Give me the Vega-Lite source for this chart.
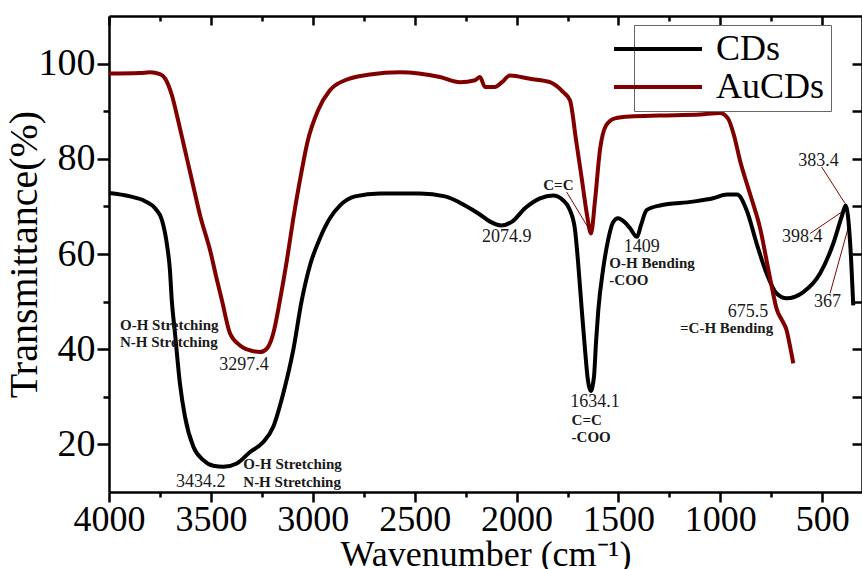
{
  "$schema": "https://vega.github.io/schema/vega-lite/v6.json",
  "width": 753,
  "height": 476,
  "autosize": {"type": "none"},
  "padding": {"left": 109, "top": 16, "right": 0, "bottom": 77},
  "background": "white",
  "config": {
    "view": {"stroke": null},
    "font": "Liberation Serif, Times New Roman, Times, serif",
    "text": {"font": "Liberation Serif, Times New Roman, Times, serif"},
    "axis": {
      "grid": false,
      "domainColor": "#000000",
      "domainWidth": 2.5,
      "tickColor": "#000000",
      "tickWidth": 2.5,
      "labelColor": "#000000",
      "titleColor": "#000000",
      "labelFont": "Liberation Serif, Times New Roman, Times, serif",
      "titleFont": "Liberation Serif, Times New Roman, Times, serif",
      "titleFontWeight": "normal"
    },
    "legend": {"labelFont": "Liberation Serif, Times New Roman, Times, serif"}
  },
  "datasets": {
    "curves": [
      {"series": "CDs", "wn": 4000, "T": 72.8},
      {"series": "CDs", "wn": 3897, "T": 72.1},
      {"series": "CDs", "wn": 3823, "T": 71.1},
      {"series": "CDs", "wn": 3774, "T": 69.6},
      {"series": "CDs", "wn": 3740, "T": 67.1},
      {"series": "CDs", "wn": 3715, "T": 61.8},
      {"series": "CDs", "wn": 3701, "T": 56.6},
      {"series": "CDs", "wn": 3692, "T": 50.3},
      {"series": "CDs", "wn": 3676, "T": 43.3},
      {"series": "CDs", "wn": 3652, "T": 32.8},
      {"series": "CDs", "wn": 3627, "T": 25.8},
      {"series": "CDs", "wn": 3586, "T": 19.5},
      {"series": "CDs", "wn": 3537, "T": 16.7},
      {"series": "CDs", "wn": 3488, "T": 15.5},
      {"series": "CDs", "wn": 3439, "T": 15.3},
      {"series": "CDs", "wn": 3373, "T": 16.0},
      {"series": "CDs", "wn": 3308, "T": 18.4},
      {"series": "CDs", "wn": 3243, "T": 20.5},
      {"series": "CDs", "wn": 3194, "T": 23.7},
      {"series": "CDs", "wn": 3145, "T": 30.7},
      {"series": "CDs", "wn": 3096, "T": 39.8},
      {"series": "CDs", "wn": 3054, "T": 50.3},
      {"series": "CDs", "wn": 3014, "T": 57.6},
      {"series": "CDs", "wn": 2965, "T": 63.3},
      {"series": "CDs", "wn": 2916, "T": 67.5},
      {"series": "CDs", "wn": 2866, "T": 70.2},
      {"series": "CDs", "wn": 2793, "T": 72.1},
      {"series": "CDs", "wn": 2670, "T": 72.7},
      {"series": "CDs", "wn": 2474, "T": 72.7},
      {"series": "CDs", "wn": 2351, "T": 72.1},
      {"series": "CDs", "wn": 2253, "T": 70.2},
      {"series": "CDs", "wn": 2180, "T": 68.3},
      {"series": "CDs", "wn": 2130, "T": 66.8},
      {"series": "CDs", "wn": 2076, "T": 66.0},
      {"series": "CDs", "wn": 2022, "T": 66.8},
      {"series": "CDs", "wn": 1959, "T": 69.6},
      {"series": "CDs", "wn": 1885, "T": 71.7},
      {"series": "CDs", "wn": 1821, "T": 72.3},
      {"series": "CDs", "wn": 1772, "T": 71.3},
      {"series": "CDs", "wn": 1738, "T": 69.2},
      {"series": "CDs", "wn": 1713, "T": 65.0},
      {"series": "CDs", "wn": 1699, "T": 58.7},
      {"series": "CDs", "wn": 1680, "T": 48.2},
      {"series": "CDs", "wn": 1664, "T": 39.8},
      {"series": "CDs", "wn": 1650, "T": 33.5},
      {"series": "CDs", "wn": 1636, "T": 31.2},
      {"series": "CDs", "wn": 1620, "T": 34.3},
      {"series": "CDs", "wn": 1610, "T": 41.6},
      {"series": "CDs", "wn": 1599, "T": 48.2},
      {"series": "CDs", "wn": 1576, "T": 56.6},
      {"series": "CDs", "wn": 1551, "T": 62.9},
      {"series": "CDs", "wn": 1527, "T": 66.6},
      {"series": "CDs", "wn": 1502, "T": 67.5},
      {"series": "CDs", "wn": 1468, "T": 66.6},
      {"series": "CDs", "wn": 1443, "T": 65.4},
      {"series": "CDs", "wn": 1409, "T": 63.6},
      {"series": "CDs", "wn": 1390, "T": 66.0},
      {"series": "CDs", "wn": 1362, "T": 69.2},
      {"series": "CDs", "wn": 1297, "T": 70.2},
      {"series": "CDs", "wn": 1134, "T": 71.0},
      {"series": "CDs", "wn": 1036, "T": 71.7},
      {"series": "CDs", "wn": 967, "T": 72.5},
      {"series": "CDs", "wn": 918, "T": 72.5},
      {"series": "CDs", "wn": 871, "T": 69.2},
      {"series": "CDs", "wn": 822, "T": 62.2},
      {"series": "CDs", "wn": 773, "T": 55.9},
      {"series": "CDs", "wn": 724, "T": 51.7},
      {"series": "CDs", "wn": 675, "T": 50.7},
      {"series": "CDs", "wn": 593, "T": 52.0},
      {"series": "CDs", "wn": 511, "T": 55.9},
      {"series": "CDs", "wn": 446, "T": 62.2},
      {"series": "CDs", "wn": 405, "T": 67.8},
      {"series": "CDs", "wn": 385, "T": 70.2},
      {"series": "CDs", "wn": 363, "T": 62.2},
      {"series": "CDs", "wn": 348, "T": 49.2},
      {"series": "AuCDs", "wn": 4000, "T": 97.9},
      {"series": "AuCDs", "wn": 3848, "T": 98.0},
      {"series": "AuCDs", "wn": 3799, "T": 98.2},
      {"series": "AuCDs", "wn": 3750, "T": 97.8},
      {"series": "AuCDs", "wn": 3725, "T": 96.9},
      {"series": "AuCDs", "wn": 3691, "T": 93.3},
      {"series": "AuCDs", "wn": 3661, "T": 88.1},
      {"series": "AuCDs", "wn": 3627, "T": 81.8},
      {"series": "AuCDs", "wn": 3593, "T": 75.5},
      {"series": "AuCDs", "wn": 3553, "T": 68.1},
      {"series": "AuCDs", "wn": 3504, "T": 60.8},
      {"series": "AuCDs", "wn": 3470, "T": 54.5},
      {"series": "AuCDs", "wn": 3446, "T": 50.3},
      {"series": "AuCDs", "wn": 3406, "T": 43.3},
      {"series": "AuCDs", "wn": 3357, "T": 40.8},
      {"series": "AuCDs", "wn": 3293, "T": 39.6},
      {"series": "AuCDs", "wn": 3259, "T": 39.4},
      {"series": "AuCDs", "wn": 3226, "T": 40.1},
      {"series": "AuCDs", "wn": 3194, "T": 43.3},
      {"series": "AuCDs", "wn": 3161, "T": 50.3},
      {"series": "AuCDs", "wn": 3127, "T": 58.7},
      {"series": "AuCDs", "wn": 3097, "T": 67.1},
      {"series": "AuCDs", "wn": 3063, "T": 75.5},
      {"series": "AuCDs", "wn": 3024, "T": 83.9},
      {"series": "AuCDs", "wn": 2974, "T": 90.2},
      {"series": "AuCDs", "wn": 2916, "T": 94.4},
      {"series": "AuCDs", "wn": 2842, "T": 96.5},
      {"series": "AuCDs", "wn": 2719, "T": 97.7},
      {"series": "AuCDs", "wn": 2572, "T": 98.2},
      {"series": "AuCDs", "wn": 2376, "T": 97.2},
      {"series": "AuCDs", "wn": 2278, "T": 96.1},
      {"series": "AuCDs", "wn": 2204, "T": 96.5},
      {"series": "AuCDs", "wn": 2180, "T": 97.2},
      {"series": "AuCDs", "wn": 2155, "T": 95.1},
      {"series": "AuCDs", "wn": 2106, "T": 95.1},
      {"series": "AuCDs", "wn": 2072, "T": 96.1},
      {"series": "AuCDs", "wn": 2032, "T": 97.5},
      {"series": "AuCDs", "wn": 1934, "T": 96.8},
      {"series": "AuCDs", "wn": 1836, "T": 96.1},
      {"series": "AuCDs", "wn": 1771, "T": 94.0},
      {"series": "AuCDs", "wn": 1738, "T": 92.3},
      {"series": "AuCDs", "wn": 1708, "T": 83.9},
      {"series": "AuCDs", "wn": 1679, "T": 75.5},
      {"series": "AuCDs", "wn": 1654, "T": 68.1},
      {"series": "AuCDs", "wn": 1635, "T": 64.3},
      {"series": "AuCDs", "wn": 1615, "T": 71.3},
      {"series": "AuCDs", "wn": 1591, "T": 81.8},
      {"series": "AuCDs", "wn": 1561, "T": 87.0},
      {"series": "AuCDs", "wn": 1517, "T": 88.5},
      {"series": "AuCDs", "wn": 1443, "T": 88.9},
      {"series": "AuCDs", "wn": 1297, "T": 89.1},
      {"series": "AuCDs", "wn": 1100, "T": 89.3},
      {"series": "AuCDs", "wn": 1002, "T": 89.6},
      {"series": "AuCDs", "wn": 963, "T": 88.5},
      {"series": "AuCDs", "wn": 933, "T": 84.9},
      {"series": "AuCDs", "wn": 904, "T": 79.7},
      {"series": "AuCDs", "wn": 855, "T": 72.7},
      {"series": "AuCDs", "wn": 806, "T": 65.6},
      {"series": "AuCDs", "wn": 757, "T": 55.1},
      {"series": "AuCDs", "wn": 722, "T": 48.2},
      {"series": "AuCDs", "wn": 698, "T": 46.1},
      {"series": "AuCDs", "wn": 675, "T": 44.0},
      {"series": "AuCDs", "wn": 659, "T": 40.8},
      {"series": "AuCDs", "wn": 642, "T": 37.0}
    ],
    "peaks": [
      {"label": "3297.4", "wn": 3338, "T": 36.6},
      {"label": "3434.2", "wn": 3550, "T": 12.1},
      {"label": "2074.9", "wn": 2048, "T": 63.6},
      {"label": "1409", "wn": 1386, "T": 61.5},
      {"label": "1634.1", "wn": 1615, "T": 28.9},
      {"label": "675.5", "wn": 864, "T": 47.8},
      {"label": "383.4", "wn": 519, "T": 79.5},
      {"label": "398.4", "wn": 598, "T": 63.6},
      {"label": "367", "wn": 474, "T": 49.9}
    ],
    "assignments": [
      {"label": "O-H Stretching", "wn": 3946, "T": 45.0},
      {"label": "N-H Stretching", "wn": 3946, "T": 41.5},
      {"label": "O-H Stretching", "wn": 3341, "T": 15.8},
      {"label": "N-H Stretching", "wn": 3341, "T": 12.1},
      {"label": "C=C", "wn": 1869, "T": 74.4},
      {"label": "O-H Bending", "wn": 1545, "T": 58.1},
      {"label": "-COO", "wn": 1545, "T": 54.6},
      {"label": "C=C", "wn": 1730, "T": 25.2},
      {"label": "-COO", "wn": 1730, "T": 21.6},
      {"label": "=C-H Bending", "wn": 1198, "T": 44.4}
    ],
    "leaders": [
      {"wn": 1754, "T": 73.0, "wn2": 1631, "T2": 64.3},
      {"wn": 503, "T": 78.3, "wn2": 388, "T2": 70.6},
      {"wn": 560, "T": 64.3, "wn2": 405, "T2": 68.8},
      {"wn": 462, "T": 51.7, "wn2": 367, "T2": 66.4}
    ]
  },
  "resolve": {"axis": {"x": "independent", "y": "independent"}},
  "layer": [
    {
      "data": {"name": "curves"},
      "mark": {"type": "point", "opacity": 0},
      "encoding": {
        "x": {"field": "wn", "type": "quantitative", "scale": {"domain": [4000, 305], "nice": false, "zero": false},
          "axis": {"orient": "bottom", "values": [3750, 3250, 2750, 2250, 1750, 1250, 750], "labels": false, "domain": false, "tickSize": 5, "title": null}},
        "y": {"field": "T", "type": "quantitative", "scale": {"domain": [10, 110], "nice": false, "zero": false},
          "axis": {"orient": "left", "values": [30, 50, 70, 90], "labels": false, "domain": false, "tickSize": 6, "title": null}}
      }
    },
    {
      "data": {"name": "curves"},
      "mark": {"type": "point", "opacity": 0},
      "encoding": {
        "x": {"field": "wn", "type": "quantitative",
          "axis": {"orient": "top", "values": [4000, 3500, 3000, 2500, 2000, 1500, 1000, 500], "labels": false, "domain": true, "tickSize": -9, "title": null}},
        "y": {"field": "T", "type": "quantitative",
          "axis": {"orient": "right", "values": [20, 40, 60, 80, 100], "labels": false, "domain": true, "tickSize": -10, "title": null}}
      }
    },
    {
      "data": {"name": "curves"},
      "mark": {"type": "point", "opacity": 0},
      "encoding": {
        "x": {"field": "wn", "type": "quantitative",
          "axis": {"orient": "top", "values": [3750, 3250, 2750, 2250, 1750, 1250, 750], "labels": false, "domain": false, "tickSize": -5, "title": null}},
        "y": {"field": "T", "type": "quantitative",
          "axis": {"orient": "right", "values": [30, 50, 70, 90], "labels": false, "domain": false, "tickSize": -10, "title": null}}
      }
    },
    {
      "data": {"name": "leaders"},
      "mark": {"type": "rule", "color": "#8B0000", "strokeWidth": 1},
      "encoding": {
        "x": {"field": "wn", "type": "quantitative", "axis": null},
        "x2": {"field": "wn2"},
        "y": {"field": "T", "type": "quantitative", "axis": null},
        "y2": {"field": "T2"}
      }
    },
    {
      "data": {"name": "curves"},
      "mark": {"type": "line", "strokeWidth": 4, "interpolate": "monotone"},
      "encoding": {
        "x": {"field": "wn", "type": "quantitative",
          "axis": {"orient": "bottom", "values": [4000, 3500, 3000, 2500, 2000, 1500, 1000, 500], "format": "d", "title": "Wavenumber (cm⁻¹)", "tickSize": 10, "labelFontSize": 36, "titleFontSize": 36, "labelPadding": 0, "titlePadding": 0, "labelFlush": false}},
        "y": {"field": "T", "type": "quantitative",
          "axis": {"orient": "left", "values": [20, 40, 60, 80, 100], "format": "d", "title": "Transmittance(%)", "tickSize": 12, "labelFontSize": 38, "titleFontSize": 40, "labelPadding": 2, "titlePadding": -6}},
        "color": {"field": "series", "type": "nominal",
          "scale": {"domain": ["CDs", "AuCDs"], "range": ["#000000", "#800000"]},
          "legend": {"orient": "none", "legendX": 525, "legendY": 9, "title": null, "symbolType": "M-4,0H4", "symbolSize": 484, "symbolStrokeWidth": 4, "symbolOffset": 0, "labelFontSize": 36, "labelColor": "#000000", "strokeColor": "#666666", "fillColor": "white", "padding": 6, "labelOffset": 40, "rowPadding": 2}}
      }
    },
    {
      "data": {"name": "peaks"},
      "mark": {"type": "text", "fontSize": 18, "align": "center", "baseline": "middle", "color": "#1a1a1a"},
      "encoding": {
        "x": {"field": "wn", "type": "quantitative", "axis": null},
        "y": {"field": "T", "type": "quantitative", "axis": null},
        "text": {"field": "label"}
      }
    },
    {
      "data": {"name": "assignments"},
      "mark": {"type": "text", "fontSize": 15, "fontWeight": "bold", "align": "left", "baseline": "middle", "color": "#1a1a1a"},
      "encoding": {
        "x": {"field": "wn", "type": "quantitative", "axis": null},
        "y": {"field": "T", "type": "quantitative", "axis": null},
        "text": {"field": "label"}
      }
    }
  ]
}
